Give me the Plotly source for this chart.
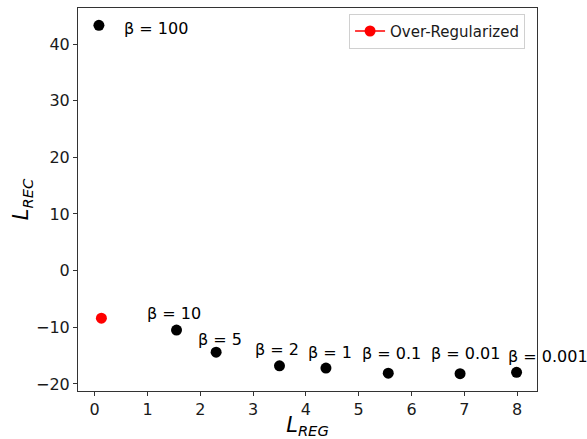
import plotly.graph_objects as go

# Data
beta_labels = ["β = 100", "β = 10", "β = 5", "β = 2", "β = 1", "β = 0.1", "β = 0.01", "β = 0.001"]
l_reg = [0.08, 1.55, 2.30, 3.50, 4.38, 5.56, 6.92, 7.99]
l_rec = [43.3, -10.5, -14.4, -16.8, -17.2, -18.1, -18.2, -17.95]

over_reg_x = [0.127]
over_reg_y = [-8.4]

# label offsets in pixels (xshift, yshift) relative to each point
label_xshift = [23, -32, -20, -26, -20, -28, -31, -11]
label_yshift = [-3, 17, 13, 16, 16, 20, 20, 16]

x_ticks = [0, 1, 2, 3, 4, 5, 6, 7, 8]
y_ticks = [-20, -10, 0, 10, 20, 30, 40]
y_ticktext = ["−20", "−10", "0", "10", "20", "30", "40"]

FONT = "DejaVu Sans"

fig = go.Figure()
fig.add_trace(go.Scatter(
    x=l_reg, y=l_rec, mode="markers",
    marker=dict(color="black", size=11),
    showlegend=False, cliponaxis=False,
))
fig.add_trace(go.Scatter(
    x=over_reg_x, y=over_reg_y, mode="lines+markers",
    marker=dict(color="red", size=11),
    line=dict(color="red", width=1.5),
    name="Over-Regularized", cliponaxis=False,
))

for lbl, x, y, dx, dy in zip(beta_labels, l_reg, l_rec, label_xshift, label_yshift):
    fig.add_annotation(
        x=x, y=y, text=lbl, showarrow=False,
        xanchor="left", yanchor="middle",
        xshift=dx, yshift=dy,
        font=dict(family=FONT, size=16, color="black"),
    )

axis_common = dict(
    showline=True, linecolor="#333333", linewidth=1, mirror=True,
    ticks="outside", ticklen=4, tickcolor="#333333", tickwidth=1,
    showgrid=False, zeroline=False,
    tickfont=dict(family=FONT, size=16, color="#1a1a1a"),
)

fig.update_layout(
    width=587, height=439,
    margin=dict(l=78, r=50, t=8, b=48, autoexpand=False),
    paper_bgcolor="white", plot_bgcolor="white",
    xaxis=dict(range=[-0.316, 8.377], tickvals=x_ticks,
               title=dict(text="<i>L</i><sub><i>REG</i></sub>",
                          font=dict(family=FONT, size=21, color="black"), standoff=5),
               **axis_common),
    yaxis=dict(range=[-21.25, 46.36], tickvals=y_ticks, ticktext=y_ticktext,
               title=dict(text="<i>L</i><sub><i>REC</i></sub>",
                          font=dict(family=FONT, size=21, color="black"), standoff=1),
               **axis_common),
    legend=dict(
        x=0.974, y=0.985, xanchor="right", yanchor="top",
        bordercolor="#d0d0d0", borderwidth=1, bgcolor="white",
        font=dict(family=FONT, size=15, color="#1a1a1a"),
    ),
    showlegend=True,
)

fig.write_html("out.html", config={"displayModeBar": False},
               post_script="document.body.style.margin='0';")
